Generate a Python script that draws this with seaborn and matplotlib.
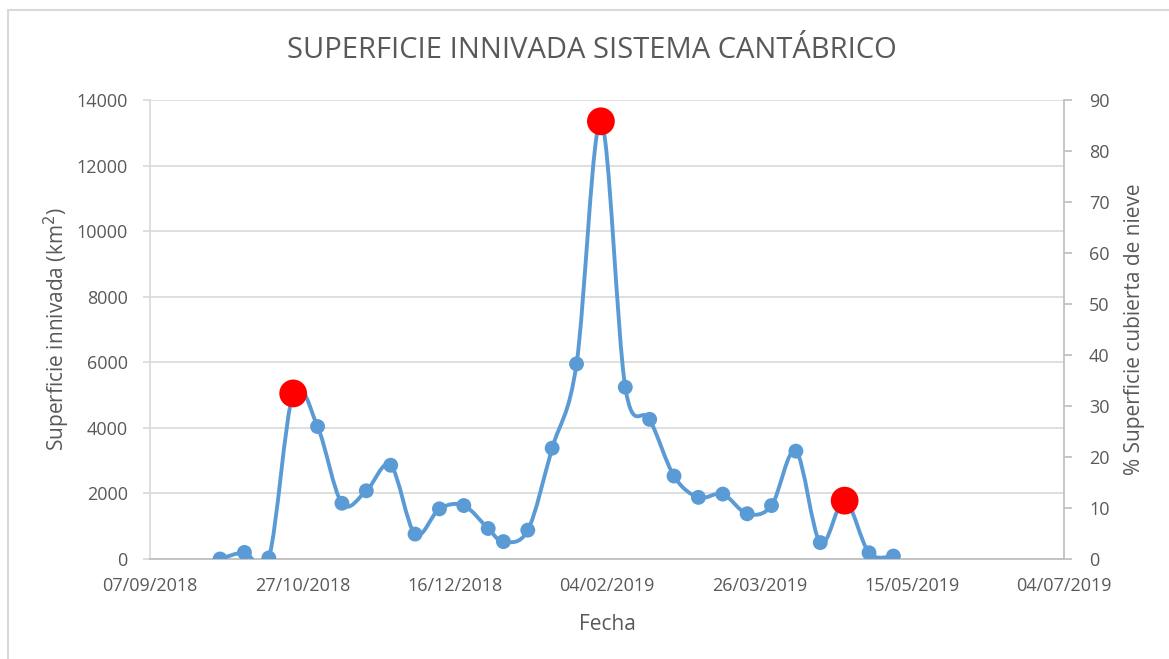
"""
Superficie innivada - Sistema Cantábrico (recreación del gráfico de Excel)
"""
import numpy as np
import pandas as pd
import matplotlib
matplotlib.use("Agg")
import matplotlib.pyplot as plt
import matplotlib.dates as mdates
from matplotlib.path import Path
from matplotlib.patches import PathPatch, Rectangle
import seaborn as sns

# datos (compuestos MODIS de 8 días)
fechas = ["2018-09-30", "2018-10-08", "2018-10-16", "2018-10-24", "2018-11-01",
          "2018-11-09", "2018-11-17", "2018-11-25", "2018-12-03", "2018-12-11",
          "2018-12-19", "2018-12-27", "2019-01-01", "2019-01-09", "2019-01-17",
          "2019-01-25", "2019-02-02", "2019-02-10", "2019-02-18", "2019-02-26",
          "2019-03-06", "2019-03-14", "2019-03-22", "2019-03-30", "2019-04-07",
          "2019-04-15", "2019-04-23", "2019-05-01", "2019-05-09"]
superficie = [0, 200, 30, 5050, 4040, 1700, 2080, 2860, 760, 1530,
              1630, 930, 530, 880, 3380, 5950, 13350, 5240, 4260, 2530,
              1880, 1980, 1380, 1630, 3290, 500, 1780, 190, 90]
maximos = ["2018-10-24", "2019-02-02", "2019-04-23"]

ticks_x = pd.date_range("2018-09-07", "2019-07-04", freq="50D")

GRIS = "#595959"
AZUL = "#5B9BD5"

sns.set_theme(style="white")
plt.rcParams['font.family'] = ['Open Sans', 'DejaVu Sans']

df = pd.DataFrame({"fecha": pd.to_datetime(fechas), "superficie": superficie})
df_max = df[df["fecha"].isin(pd.to_datetime(maximos))]

fig = plt.figure(figsize=(11.69, 6.59), dpi=100)
ax = fig.add_axes([150 / 1169, 1 - 559 / 659, 914 / 1169, 459 / 659])

# línea suavizada (Bezier tipo Catmull-Rom, como el "suavizado" de Excel)
x = mdates.date2num(df["fecha"])
y = df["superficie"].to_numpy(dtype=float)
verts = [(x[0], y[0])]
codes = [Path.MOVETO]
n = len(x)
for i in range(n - 1):
    p0 = np.array([x[max(i - 1, 0)], y[max(i - 1, 0)]])
    p1 = np.array([x[i], y[i]])
    p2 = np.array([x[i + 1], y[i + 1]])
    p3 = np.array([x[min(i + 2, n - 1)], y[min(i + 2, n - 1)]])
    c1 = p1 + (p2 - p0) / 6
    c2 = p2 - (p3 - p1) / 6
    verts += [tuple(c1), tuple(c2), tuple(p2)]
    codes += [Path.CURVE4] * 3
ax.add_patch(PathPatch(Path(verts, codes), fill=False, edgecolor=AZUL,
                       linewidth=2.8, capstyle="round", joinstyle="round", zorder=3))

sns.scatterplot(data=df, x="fecha", y="superficie", ax=ax, color=AZUL,
                s=115, edgecolor="none", zorder=4, legend=False)
sns.scatterplot(data=df_max, x="fecha", y="superficie", ax=ax, color="#FF0000",
                s=400, edgecolor="none", zorder=5, legend=False)

ax.set_xlim(ticks_x[0], ticks_x[-1])
ax.set_ylim(0, 14000)
ax.set_yticks(range(0, 14001, 2000))
ax.set_xticks(ticks_x)
ax.xaxis.set_major_formatter(mdates.DateFormatter("%d/%m/%Y"))
ax.yaxis.grid(True, color="#d9d9d9", linewidth=1.2)
ax.set_axisbelow(True)

for s in ["top", "right"]:
    ax.spines[s].set_visible(False)
ax.spines["left"].set_color("#d9d9d9")
ax.spines["bottom"].set_color("#bfbfbf")
ax.spines["bottom"].set_linewidth(1.3)
ax.tick_params(axis="y", left=True, length=5, color="#d9d9d9", labelsize=13,
               labelcolor=GRIS, pad=11)
ax.tick_params(axis="x", bottom=False, labelsize=13, labelcolor=GRIS, pad=7)

ax.set_xlabel("Fecha", fontsize=15, color=GRIS, labelpad=14)
ax.set_ylabel("Superficie innivada (km$^2$)", fontsize=15, color=GRIS, labelpad=3)

# eje secundario (% superficie)
ax2 = ax.twinx()
ax2.set_ylim(0, 90)
ax2.set_yticks(range(0, 91, 10))
for s in ["top", "left", "bottom"]:
    ax2.spines[s].set_visible(False)
ax2.spines["right"].set_color("#bfbfbf")
ax2.tick_params(axis="y", right=True, length=6, color="#bfbfbf", labelsize=13,
                labelcolor=GRIS, pad=12)
ax2.set_ylabel("% Superficie cubierta de nieve", fontsize=15, color=GRIS, labelpad=10)

fig.text(592 / 1169, 1 - 50 / 659, "SUPERFICIE INNIVADA SISTEMA CANTÁBRICO",
         ha="center", va="center", fontsize=21, color=GRIS)

# marco del gráfico
fig.patches.append(Rectangle((8 / 1169, -0.1), 1.2, 1 - 10 / 659 + 0.1,
                             transform=fig.transFigure, fill=False,
                             edgecolor="#d9d9d9", linewidth=1.5))

fig.savefig("out.png", dpi=100)
